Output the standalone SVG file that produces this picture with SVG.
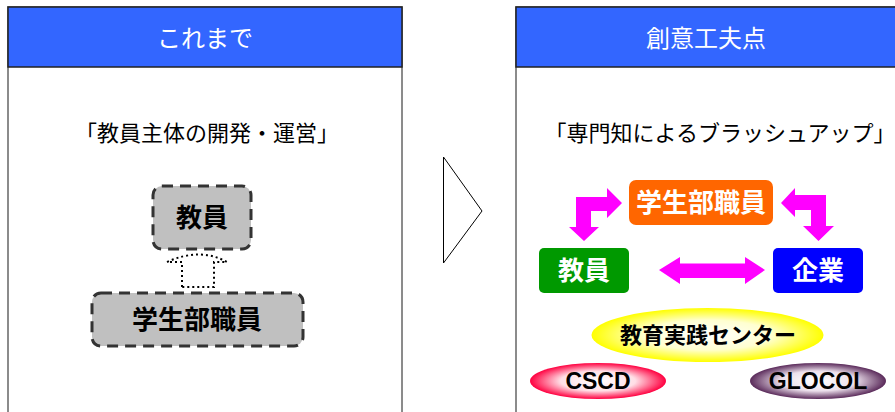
<svg xmlns="http://www.w3.org/2000/svg" width="895" height="412" viewBox="0 0 895 412">
<style>
.panel{fill:#ffffff;stroke:#666666;stroke-width:1.5}
.hdr{fill:#3366ff;stroke:#222222;stroke-width:1.5}
.hdrt{font-family:"Noto Sans CJK JP","Noto Sans",sans-serif;font-size:24px;fill:#ffffff;text-anchor:middle}
.sub{font-family:"Noto Sans CJK JP","Noto Sans",sans-serif;font-size:22px;fill:#000000;text-anchor:middle}
.gray{fill:#c0c0c0;stroke:#333333;stroke-width:3;stroke-dasharray:11 7}
.bt{font-family:"Noto Sans CJK JP","Noto Sans",sans-serif;font-size:26px;font-weight:bold;text-anchor:middle}
.lat{font-family:"Liberation Sans",Arial,sans-serif;font-size:23px;font-weight:bold;text-anchor:middle;fill:#000000}
.mag{fill:#ff00ff}
</style>
<defs>
<radialGradient id="gY" cx="50%" cy="50%" r="50%"><stop offset="0" stop-color="#ffffff"/><stop offset="0.55" stop-color="#ffffd0"/><stop offset="1" stop-color="#ffff00"/></radialGradient>
<radialGradient id="gR" cx="50%" cy="50%" r="50%"><stop offset="0" stop-color="#ffffff"/><stop offset="0.55" stop-color="#ffdfe6"/><stop offset="1" stop-color="#ff0040"/></radialGradient>
<radialGradient id="gP" cx="50%" cy="50%" r="50%"><stop offset="0" stop-color="#ffffff"/><stop offset="0.55" stop-color="#ece0ec"/><stop offset="1" stop-color="#5a2a5a"/></radialGradient>
</defs>

<g id="panel-left">
<rect class="panel" x="8" y="7" width="394" height="420"/>
<rect class="hdr" x="8" y="7" width="394" height="60"/>
<text class="hdrt" x="205" y="47">これまで</text>
<text class="sub" x="207" y="141">「教員主体の開発・運営」</text>
</g>

<g id="panel-right">
<rect class="panel" x="516" y="7" width="400" height="420"/>
<rect class="hdr" x="516" y="7" width="400" height="60"/>
<text class="hdrt" x="706" y="47">創意工夫点</text>
<text class="sub" x="720" y="141">「専門知によるブラッシュアップ」</text>
</g>

<g id="chevron">
<polygon points="443.5,157 482,211 443.5,263" fill="#ffffff" stroke="#000000" stroke-width="1"/>
</g>

<g id="connectors">
<path d="M182,287 L182,262 L167,262 Q200,247 227,262 L214,262 L214,287 Z" fill="none" stroke="#000000" stroke-width="2" stroke-dasharray="2 3"/>
<path class="mag" d="M576,197 L607,197 L607,188 L622,203 L607,218 L607,211 L591,211 L591,227 L599,227 L584,241 L569,227 L576,227 Z"/>
<path class="mag" d="M826,195 L795,195 L795,188 L781,203 L795,217 L795,210 L811,210 L811,226 L803,226 L818.5,241 L834,226 L826,226 Z"/>
<path class="mag" d="M659,270 L680,257 L680,263.5 L745,263.5 L745,257 L765,270 L745,284 L745,278 L680,278 L680,284 Z"/>
</g>

<g id="node-kyoin-left">
<rect class="gray" x="153" y="186" width="98" height="63" rx="9"/>
<text class="bt" x="202" y="227" fill="#000000">教員</text>
</g>
<g id="node-gakusei-left">
<rect class="gray" x="92" y="293" width="211" height="53" rx="9"/>
<text class="bt" x="197" y="329" fill="#000000">学生部職員</text>
</g>

<g id="node-gakusei">
<rect x="629" y="180" width="144" height="45" rx="7" fill="#ff6600"/>
<text class="bt" x="701" y="212" fill="#ffffff">学生部職員</text>
</g>
<g id="node-kyoin">
<rect x="539" y="248" width="90" height="45" rx="5" fill="#009900"/>
<text class="bt" x="584" y="280" fill="#ffffff">教員</text>
</g>
<g id="node-kigyo">
<rect x="773" y="248" width="90" height="45" rx="5" fill="#0000ff"/>
<text class="bt" x="818" y="280" fill="#ffffff">企業</text>
</g>

<g id="node-center">
<ellipse cx="707.5" cy="335" rx="116" ry="27" fill="url(#gY)"/>
<text class="bt" x="708" y="343" fill="#000000" style="font-size:22px">教育実践センター</text>
</g>
<g id="node-cscd">
<ellipse cx="598" cy="381" rx="68" ry="18" fill="url(#gR)"/>
<text class="lat" x="598" y="389">CSCD</text>
</g>
<g id="node-glocol">
<ellipse cx="818" cy="381" rx="68" ry="18" fill="url(#gP)"/>
<text class="lat" x="818" y="389">GLOCOL</text>
</g>
</svg>
